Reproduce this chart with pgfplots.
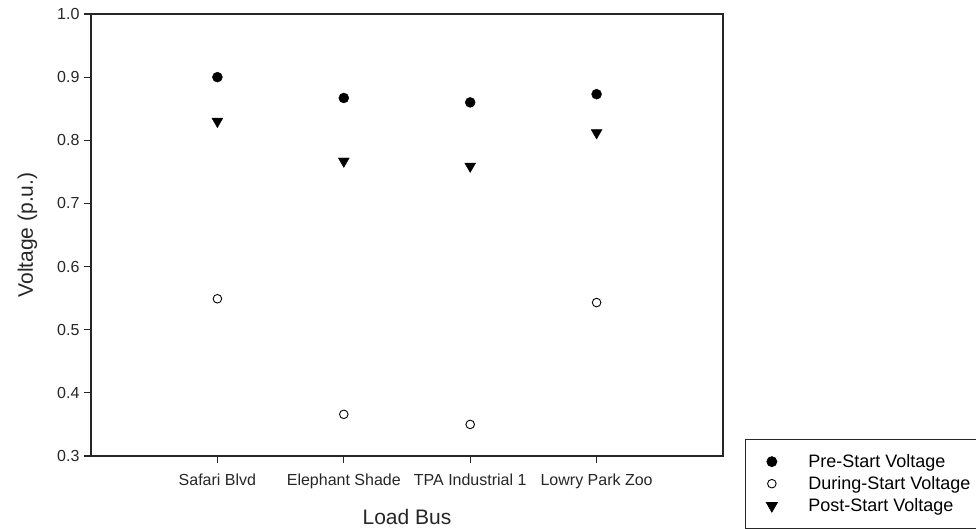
\documentclass[border=0pt]{standalone}
\usepackage{fontspec}
\setmainfont{Liberation Sans}
\usepackage{pgfplots}
\pgfplotsset{compat=1.18}
\begin{document}
\begin{tikzpicture}[x=1pt,y=1pt]
\useasboundingbox (0,0) rectangle (976,529);
\begin{axis}[
  scale only axis,
  width=632pt, height=442pt,
  at={(91pt,73pt)}, anchor=south west,
  xmin=-1, xmax=4,
  ymin=0.3, ymax=1.0,
  xtick={0,1,2,3},
  xticklabels={Safari Blvd, Elephant Shade, TPA Industrial 1, Lowry Park Zoo},
  ytick={0.3,0.4,0.5,0.6,0.7,0.8,0.9,1.0},
  yticklabel style={/pgf/number format/fixed,/pgf/number format/precision=1,/pgf/number format/fixed zerofill},
  /pgf/number format/assume math mode=true,
  tick align=outside,
  tick pos=left,
  major tick length=7pt,
  axis line style={line width=1.2pt, black!85},
  every tick/.style={line width=1.1pt, black!85},
  tick label style={font=\fontsize{16}{19}\selectfont, text=black!85},
  xticklabel style={yshift=-7pt},
  yticklabel style={xshift=-1pt},
  xlabel={Load Bus},
  ylabel={Voltage (p.u.)},
  label style={font=\fontsize{21}{25}\selectfont, text=black!85},
  xlabel style={yshift=-14pt},
  ylabel style={yshift=13pt},
  legend style={
    at={(1.0348,0.0385)}, anchor=north west,
    draw=black!85, line width=0.8pt,
    font=\fontsize{18}{21}\selectfont,
    inner xsep=21pt, inner ysep=13pt,
    row sep=3.5pt,
    /tikz/every odd column/.append style={column sep=29pt},
  },
  legend cell align=left,
  legend image code/.code={\draw[mark repeat=2,mark phase=2] plot coordinates {(0pt,0pt) (13pt,0pt) (26pt,0pt)};},
]
\addplot[only marks, mark=*, mark size=5pt, draw=black, fill=black]
  coordinates {(0,0.900) (1,0.867) (2,0.860) (3,0.873)};
\addlegendentry{Pre-Start Voltage}
\addplot[only marks, mark=o, mark size=4.3pt, draw=black, line width=0.9pt, fill=white]
  coordinates {(0,0.549) (1,0.366) (2,0.350) (3,0.543)};
\addlegendentry{During-Start Voltage}
\addplot[only marks, mark=triangle*, mark size=6.3pt, mark options={rotate=180}, draw=black, fill=black]
  coordinates {(0,0.830) (1,0.767) (2,0.759) (3,0.812)};
\addlegendentry{Post-Start Voltage}
\end{axis}
\end{tikzpicture}
\end{document}
